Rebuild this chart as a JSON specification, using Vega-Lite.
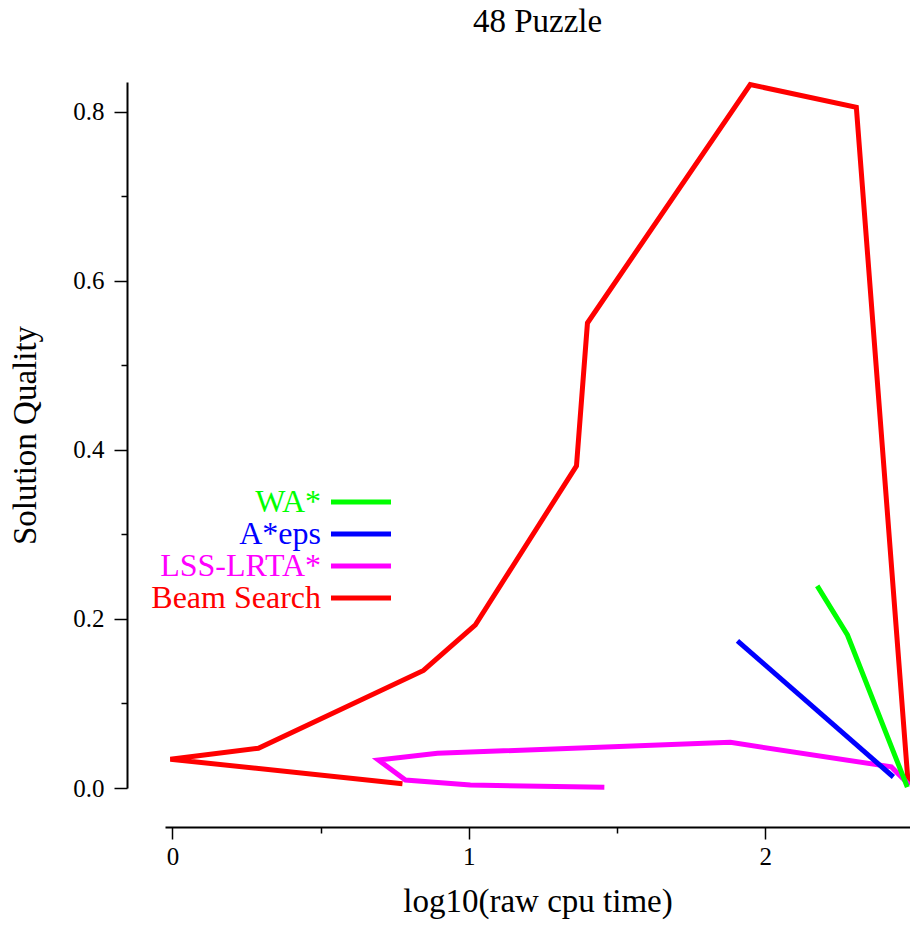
{
  "$schema": "https://vega.github.io/schema/vega-lite/v6.json",
  "autosize": {"type": "none"},
  "padding": {"left": 165, "top": 82, "right": 0, "bottom": 140},
  "width": 745,
  "height": 706,
  "background": "white",
  "title": {"text": "48 Puzzle", "font": "Liberation Serif", "fontSize": 33, "fontWeight": "normal", "color": "black", "offset": 36, "anchor": "middle"},
  "config": {"view": {"stroke": null}},
  "data": {"values": [
    {"s": "Beam Search", "i": 0, "x": 0.776, "y": 0.005},
    {"s": "Beam Search", "i": 1, "x": -0.007, "y": 0.034},
    {"s": "Beam Search", "i": 2, "x": 0.29, "y": 0.047},
    {"s": "Beam Search", "i": 3, "x": 0.847, "y": 0.139},
    {"s": "Beam Search", "i": 4, "x": 1.022, "y": 0.193},
    {"s": "Beam Search", "i": 5, "x": 1.363, "y": 0.381},
    {"s": "Beam Search", "i": 6, "x": 1.40, "y": 0.550},
    {"s": "Beam Search", "i": 7, "x": 1.949, "y": 0.832},
    {"s": "Beam Search", "i": 8, "x": 2.307, "y": 0.805},
    {"s": "Beam Search", "i": 9, "x": 2.482, "y": 0.004},
    {"s": "LSS-LRTA*", "i": 0, "x": 1.457, "y": 0.001},
    {"s": "LSS-LRTA*", "i": 1, "x": 1.005, "y": 0.0035},
    {"s": "LSS-LRTA*", "i": 2, "x": 0.786, "y": 0.0095},
    {"s": "LSS-LRTA*", "i": 3, "x": 0.695, "y": 0.033},
    {"s": "LSS-LRTA*", "i": 4, "x": 0.894, "y": 0.041},
    {"s": "LSS-LRTA*", "i": 5, "x": 1.882, "y": 0.054},
    {"s": "LSS-LRTA*", "i": 6, "x": 2.425, "y": 0.025},
    {"s": "LSS-LRTA*", "i": 7, "x": 2.486, "y": 0.0035},
    {"s": "A*eps", "i": 0, "x": 1.906, "y": 0.174},
    {"s": "A*eps", "i": 1, "x": 2.432, "y": 0.013},
    {"s": "WA*", "i": 0, "x": 2.175, "y": 0.239},
    {"s": "WA*", "i": 1, "x": 2.277, "y": 0.181},
    {"s": "WA*", "i": 2, "x": 2.479, "y": 0.001}
  ]},
  "mark": {"type": "line", "strokeWidth": 5, "clip": false},
  "encoding": {
    "x": {
      "field": "x", "type": "quantitative",
      "scale": {"domain": [-0.025, 2.488], "nice": false, "zero": false},
      "axis": {
        "title": "log10(raw cpu time)",
        "values": [0, 0.5, 1, 1.5, 2],
        "labelExpr": "round(datum.value*10)%10==0 ? format(datum.value,'d') : ''",
        "offset": 39, "grid": false,
        "domainColor": "black", "domainWidth": 2,
        "tickColor": "black", "tickWidth": 1.5,
        "tickSize": {"condition": {"test": "round(datum.value*10)%10==0", "value": 12}, "value": 6},
        "labelFont": "Liberation Serif", "labelFontSize": 25, "labelColor": "black", "labelPadding": 5,
        "titleFont": "Liberation Serif", "titleFontSize": 33, "titleFontWeight": "normal", "titleColor": "black", "titlePadding": 16
      }
    },
    "y": {
      "field": "y", "type": "quantitative",
      "scale": {"domain": [0, 0.835], "nice": false, "zero": false},
      "axis": {
        "title": "Solution Quality",
        "values": [0, 0.1, 0.2, 0.3, 0.4, 0.5, 0.6, 0.7, 0.8],
        "labelExpr": "round(datum.value*10)%2==0 ? format(datum.value,'.1f') : ''",
        "offset": 38, "grid": false,
        "domainColor": "black", "domainWidth": 2,
        "tickColor": "black", "tickWidth": 1.5,
        "tickSize": {"condition": {"test": "round(datum.value*10)%2==0", "value": 13}, "value": 6},
        "labelFont": "Liberation Serif", "labelFontSize": 25, "labelColor": "black", "labelPadding": 10,
        "titleFont": "Liberation Serif", "titleFontSize": 33, "titleFontWeight": "normal", "titleColor": "black", "titlePadding": 30
      }
    },
    "color": {
      "field": "s", "type": "nominal",
      "scale": {"domain": ["WA*", "A*eps", "LSS-LRTA*", "Beam Search"], "range": ["#00ff00", "#0000ff", "#ff00ff", "#ff0000"]},
      "legend": {
        "title": null, "orient": "none", "legendX": 180, "legendY": 404, "padding": 0,
        "symbolType": "M-3,0H3", "symbolSize": 400, "symbolStrokeWidth": 5,
        "labelFont": "Liberation Serif", "labelFontSize": 32, "labelAlign": "right", "labelOffset": -56, "labelLimit": 0,
        "rowPadding": 0,
        "encode": {"labels": {"update": {"fill": {"scale": "color", "field": "value"}}}}
      }
    },
    "order": {"field": "i", "type": "quantitative"}
  }
}
